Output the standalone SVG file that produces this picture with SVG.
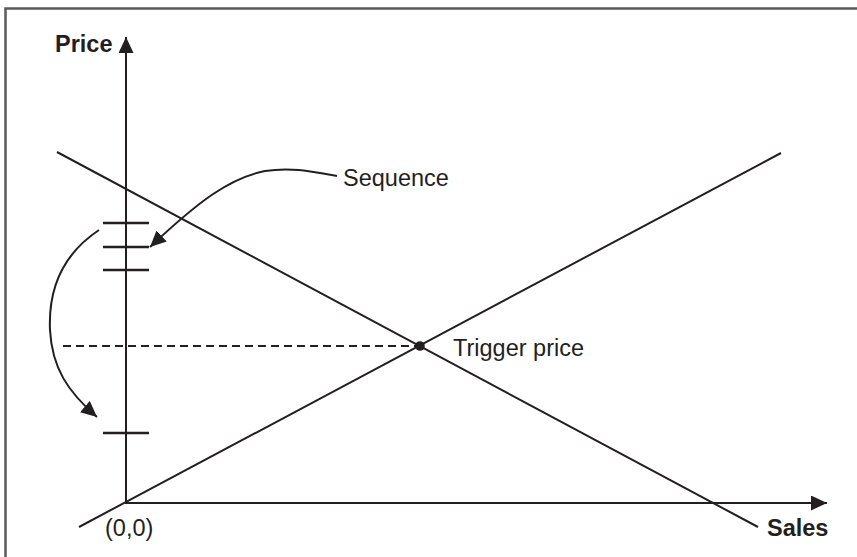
<svg xmlns="http://www.w3.org/2000/svg" width="857" height="557" viewBox="0 0 857 557">
  <style>
    .frame { fill: none; stroke: #5a5a5a; stroke-width: 2.5; }
    .line { fill: none; stroke: #231f20; stroke-width: 2; }
    .tick { stroke: #231f20; stroke-width: 2.5; }
    .dash { stroke: #231f20; stroke-width: 1.8; stroke-dasharray: 8 5; }
    .lbl { font-family: "Liberation Sans", Arial, Helvetica, sans-serif; font-size: 23.5px; fill: #231f20; }
    .bold { font-weight: bold; }
  </style>
  <defs>
    <marker id="head" markerUnits="userSpaceOnUse" markerWidth="17" markerHeight="16" refX="16" refY="7.5" orient="auto">
      <path d="M0,0 L16,7.5 L0,15 z" fill="#231f20"/>
    </marker>
  </defs>

  <rect width="857" height="557" fill="#ffffff"/>
  <path class="frame" d="M5.5,557 L5.5,8.5 L857,8.5"/>

  <g id="connectors">
    <!-- axes -->
    <line id="price-axis" class="line" x1="126" y1="503" x2="126" y2="37" marker-end="url(#head)"/>
    <line id="sales-axis" class="line" x1="125" y1="503" x2="827" y2="503" stroke-width="2.5" marker-end="url(#head)"/>
    <!-- supply and demand lines -->
    <line id="rising-line" class="line" x1="79" y1="527" x2="781" y2="153"/>
    <line id="falling-line" class="line" x1="57" y1="152" x2="758" y2="527"/>
    <!-- trigger level -->
    <line id="trigger-dash" class="dash" x1="63" y1="346" x2="416" y2="346"/>
    <!-- price ticks -->
    <line class="tick" x1="103" y1="223" x2="149" y2="223"/>
    <line class="tick" x1="103" y1="247" x2="149" y2="247"/>
    <line class="tick" x1="103" y1="270" x2="149" y2="270"/>
    <line class="tick" x1="103" y1="433" x2="149" y2="433"/>
    <!-- leader from label to sequence -->
    <path id="sequence-leader" class="line" d="M337,176 C310,171 290,167 265,171 C230,178 200,200 150,247" marker-end="url(#head)"/>
    <!-- jump down the sequence -->
    <path id="jump-arrow" class="line" d="M99,230 C66,252 48,285 50,330 C52,368 68,392 97,417" marker-end="url(#head)"/>
  </g>

  <g id="trigger-point">
    <circle cx="420" cy="346" r="4.8" fill="#231f20"/>
    <text class="lbl" x="453" y="356">Trigger price</text>
  </g>
  <g id="sequence-label">
    <text class="lbl" x="343" y="186">Sequence</text>
  </g>
  <g id="price-label">
    <text class="lbl bold" x="55" y="52">Price</text>
  </g>
  <g id="sales-label">
    <text class="lbl bold" x="767" y="536">Sales</text>
  </g>
  <g id="origin-label">
    <text class="lbl" x="105" y="536">(0,0)</text>
  </g>
</svg>
